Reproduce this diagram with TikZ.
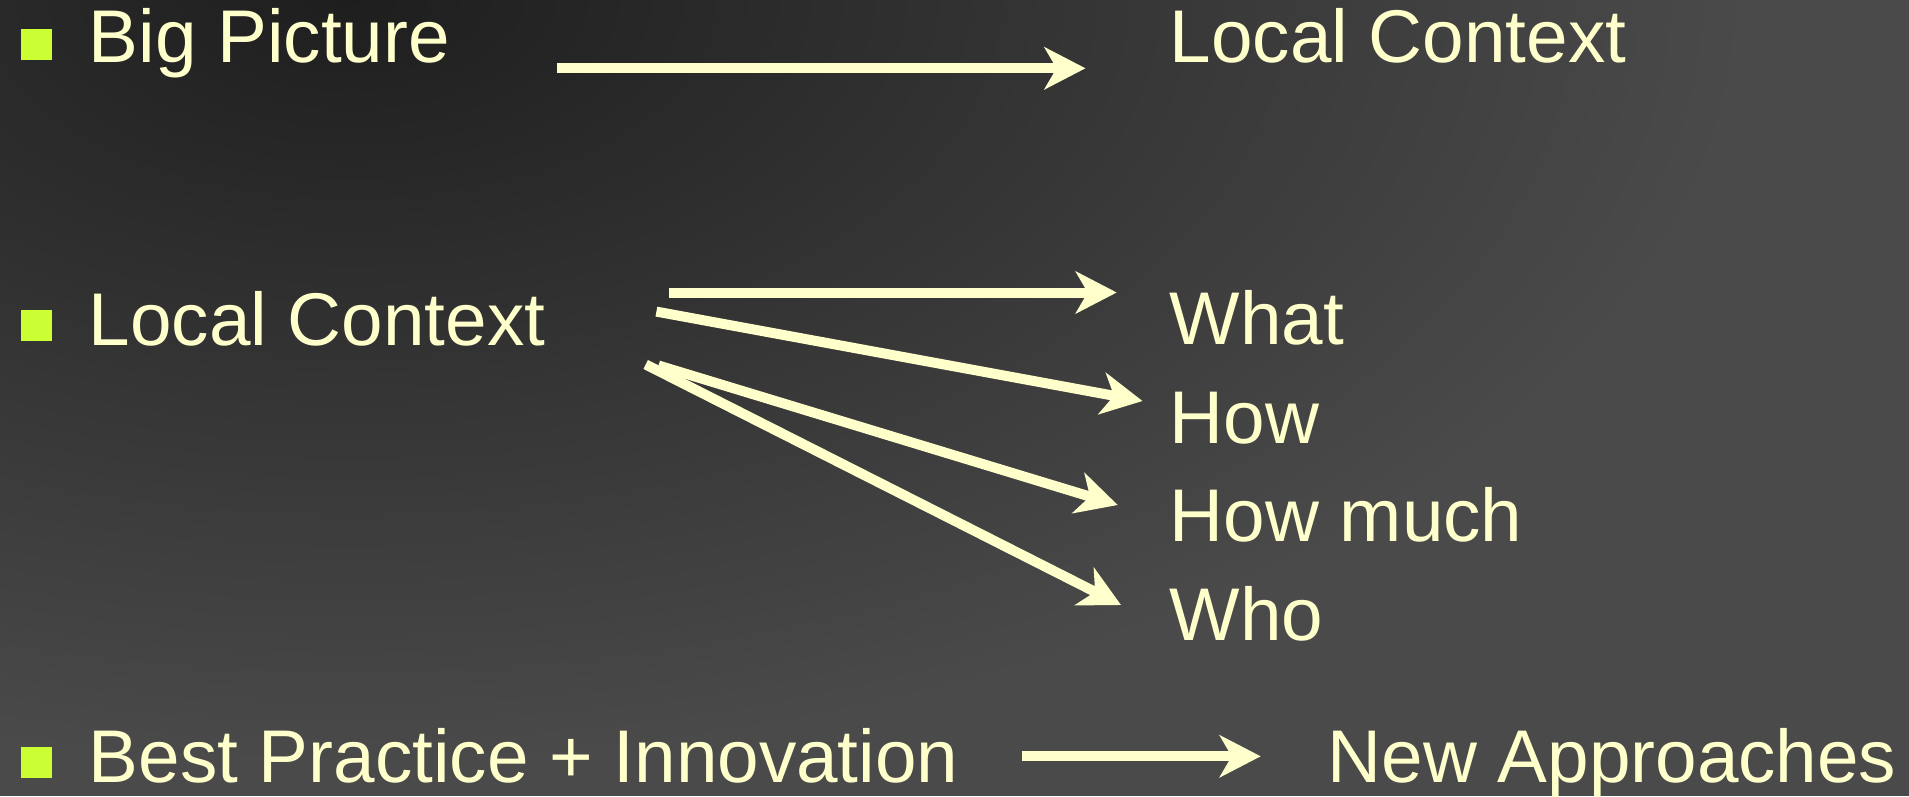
\documentclass[tikz,border=0pt]{standalone}
\usepackage{fontspec}
\setmainfont{Liberation Sans}
\usepackage{tikz}
\usetikzlibrary{arrows.meta}
\definecolor{bgdark}{HTML}{1E1E1E}
\definecolor{bglight}{HTML}{4A4A4A}
\definecolor{textyellow}{HTML}{FFFFCC}
\definecolor{bulletgreen}{HTML}{CCFF33}

\begin{document}
\begin{tikzpicture}[
    item/.style={text=textyellow, anchor=base west, inner sep=0pt, font=\fontsize{21.25}{25}\selectfont},
    bulletbox/.style={fill=bulletgreen, minimum size=0.31cm, inner sep=0pt},
    fatarrow/.style={textyellow, line width=0.1cm, -{Stealth[length=0.41cm, width=0.42cm, inset=0.12cm]}}]
    \useasboundingbox (0,0) rectangle (19.09,7.96);

    % Background
    \begin{scope}
      \clip (0,0) rectangle (19.09,7.96);
      \fill[bglight] (0,0) rectangle (19.09,7.96);
      \shade[inner color=bgdark, outer color=bglight] (3.5,8) ellipse [x radius=14, y radius=7.7];
    \end{scope}

    % Bullets
    \node[bulletbox] (bul1) at (0.365,7.515) {};
    \node[bulletbox] (bul2) at (0.365,4.705) {};
    \node[bulletbox] (bul3) at (0.365,0.335) {};

    % Left column
    \node[item] (bigpic) at (0.88,7.33) {Big Picture};
    \node[item] (lcleft) at (0.88,4.51) {Local Context};
    \node[item] (bestprac) at (0.88,0.14) {Best Practice + Innovation};

    % Right column
    \node[item] (lcright) at (11.69,7.33) {Local Context};
    \node[item] (what) at (11.69,4.52) {What};
    \node[item] (how) at (11.69,3.53) {How};
    \node[item] (howmuch) at (11.69,2.55) {How much};
    \node[item] (who) at (11.69,1.56) {Who};
    \node[item] (newapp) at (13.27,0.14) {New Approaches};

    % Arrow ends
    \coordinate (bp-out) at (5.574,7.277);
    \coordinate (lc-in) at (10.855,7.277);
    \coordinate (what-out) at (6.693,5.035);
    \coordinate (what-in) at (11.167,5.035);
    \coordinate (how-out) at (6.564,4.844);
    \coordinate (how-in) at (11.425,3.95);
    \coordinate (much-out) at (6.585,4.305);
    \coordinate (much-in) at (11.177,2.91);
    \coordinate (who-out) at (6.457,4.315);
    \coordinate (who-in) at (11.21,1.91);
    \coordinate (best-out) at (10.217,0.397);
    \coordinate (new-in) at (12.607,0.397);

    % Arrows
    \draw[fatarrow] (bp-out) -- (lc-in);
    \draw[fatarrow] (what-out) -- (what-in);
    \draw[fatarrow] (how-out) -- (how-in);
    \draw[fatarrow] (much-out) -- (much-in);
    \draw[fatarrow] (who-out) -- (who-in);
    \draw[fatarrow] (best-out) -- (new-in);
\end{tikzpicture}
\end{document}
